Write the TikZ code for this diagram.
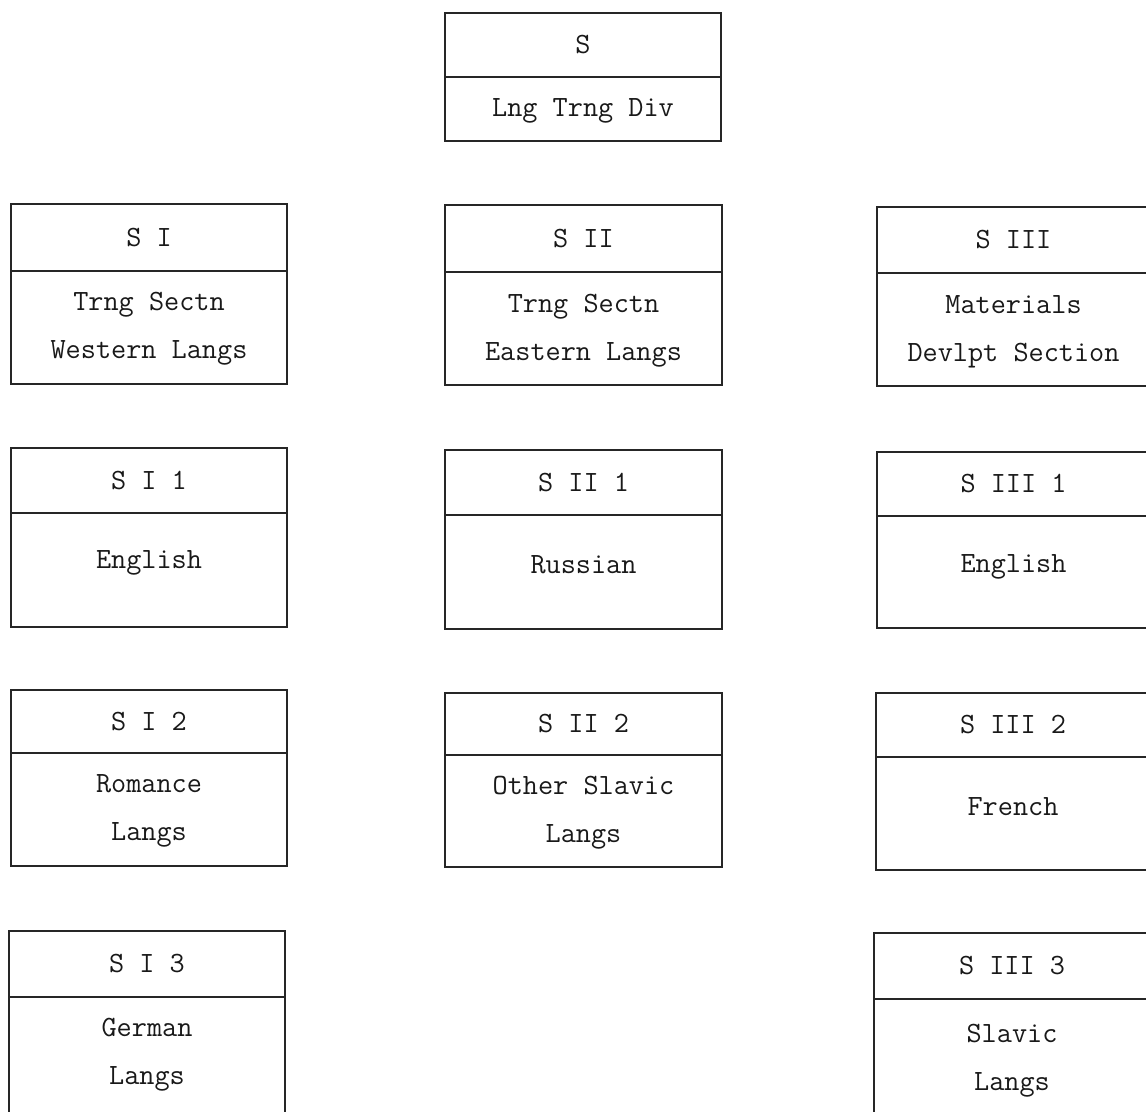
\documentclass[tikz,border=0pt]{standalone}
\begin{document}
\begin{tikzpicture}[x=0.5pt,y=-0.5pt]
\tikzset{
  boxline/.style={draw=black!85, line width=0.9pt},
  lbl/.style={inner sep=0pt, align=center, text=black!90,
    font=\fontsize{14.7}{24}\selectfont\ttfamily}
}
\newcommand\orgbox[9]{%
  \draw[boxline] (#2,#4) rectangle (#3,#6);
  \draw[boxline] (#2,#5) -- (#3,#5);
  \node[lbl] (#1h) at ({(#2+#3)/2},{(#4+#5)/2}) {#8};
  \node[lbl] (#1b) at ({(#2+#3)/2},#7) {#9};
}
\useasboundingbox (0,0) rectangle (1146,1112);
\clip (0,0) rectangle (1146,1112);
% top
\orgbox{s}{445}{721}{13}{77}{141}{111}{S}{Lng Trng Div}
% row 2
\orgbox{si}{11}{287}{204}{271}{384}{329}{S I}{Trng Sectn\\Western Langs}
\orgbox{sii}{445}{722}{205}{272}{385}{331}{S II}{Trng Sectn\\Eastern Langs}
\orgbox{siii}{877}{1150}{207}{273}{386}{332}{S III}{Materials\\Devlpt Section}
% row 3
\orgbox{sia}{11}{287}{448}{513}{627}{563}{S I 1}{English}
\orgbox{siia}{445}{722}{450}{515}{629}{565}{S II 1}{Russian}
\orgbox{siiia}{877}{1150}{452}{516}{628}{567}{S III 1}{English}
% row 4
\orgbox{sib}{11}{287}{690}{753}{866}{811}{S I 2}{Romance\\Langs}
\orgbox{siib}{445}{722}{693}{755}{867}{813}{S II 2}{Other Slavic\\Langs}
\orgbox{siiib}{876}{1150}{693}{757}{870}{807}{S III 2}{French}
% row 5
\orgbox{sic}{9}{285}{931}{997}{1115}{1055}{S I 3}{German\\Langs}
\orgbox{siiic}{874}{1150}{933}{999}{1123}{1061}{S III 3}{Slavic\\Langs}
\end{tikzpicture}
\end{document}
